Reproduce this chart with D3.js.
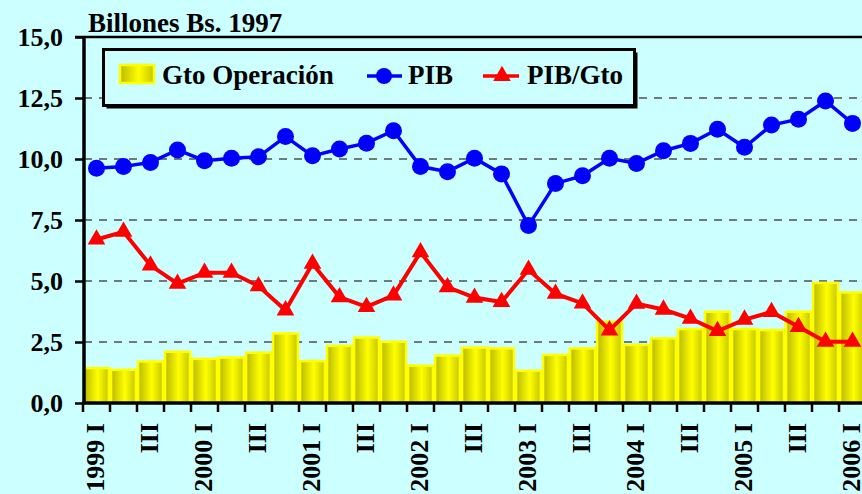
<!DOCTYPE html>
<html>
<head>
<meta charset="utf-8">
<script src="https://cdn.jsdelivr.net/npm/d3@7"></script>
<style>
  body { margin: 0; background: #CCFFFF; }
  svg { display: block; }
  text { font-family: "Liberation Serif", "Times New Roman", serif; font-weight: bold; fill: #000; }
</style>
</head>
<body>
<div id="chart"></div>
<script>
// data //
let quarters = ['1999 I', '1999 II', '1999 III', '1999 IV',
    '2000 I', '2000 II', '2000 III', '2000 IV',
    '2001 I', '2001 II', '2001 III', '2001 IV',
    '2002 I', '2002 II', '2002 III', '2002 IV',
    '2003 I', '2003 II', '2003 III', '2003 IV',
    '2004 I', '2004 II', '2004 III', '2004 IV',
    '2005 I', '2005 II', '2005 III', '2005 IV',
    '2006 I'];

let tickLabels = ['1999 I', '', 'III', '', '2000 I', '', 'III', '',
    '2001 I', '', 'III', '', '2002 I', '', 'III', '',
    '2003 I', '', 'III', '', '2004 I', '', 'III', '',
    '2005 I', '', 'III', '', '2006 I'];

let gto = [1.43, 1.36, 1.70, 2.10, 1.81, 1.86, 2.06, 2.85,
    1.72, 2.34, 2.68, 2.51, 1.53, 1.94, 2.27, 2.24,
    1.32, 1.97, 2.24, 3.33, 2.38, 2.65, 3.03, 3.74,
    3.03, 2.99, 3.74, 4.92, 4.53];

let pib = [9.62, 9.69, 9.86, 10.37, 9.93, 10.03, 10.09, 10.92,
    10.13, 10.41, 10.65, 11.16, 9.69, 9.48, 10.03, 9.39,
    7.27, 9.00, 9.31, 10.03, 9.82, 10.34, 10.64, 11.22,
    10.48, 11.39, 11.63, 12.38, 11.46];

let pibGto = [6.70, 7.02, 5.64, 4.89, 5.34, 5.34, 4.79, 3.80,
    5.71, 4.34, 3.94, 4.41, 6.18, 4.75, 4.32, 4.14,
    5.46, 4.48, 4.08, 2.98, 4.07, 3.83, 3.46, 2.95,
    3.42, 3.73, 3.12, 2.51, 2.51];

let yTicks = [0, 2.5, 5, 7.5, 10, 12.5, 15];

//sizes//
let w = 862;
let h = 494;
let plotLeft = 84;
let plotRight = 866;
let plotTop = 37;
let plotBottom = 403;

let svg = d3.select('#chart')
    .append('svg')
    .attr('width', w)
    .attr('height', h)
    .style('background-color', '#CCFFFF');

let defs = svg.append('defs');
let grad = defs.append('linearGradient')
    .attr('id', 'barGrad')
    .attr('x1', '0%').attr('x2', '100%')
    .attr('y1', '0%').attr('y2', '0%');
grad.append('stop').attr('offset', '0%').attr('stop-color', '#B8B800');
grad.append('stop').attr('offset', '55%').attr('stop-color', '#FFFF00');
grad.append('stop').attr('offset', '100%').attr('stop-color', '#C4C400');

let xScale = d3.scaleBand()
    .domain(quarters)
    .range([83, plotRight])
    .paddingInner(0.08)
    .paddingOuter(0.04);

let yScale = d3.scaleLinear()
    .domain([0, 15])
    .range([plotBottom, plotTop]);

let cx = d => xScale(d) + xScale.bandwidth() / 2;

//grid//
svg.append('g')
    .selectAll('line')
    .data(yTicks.filter(d => d > 0 && d < 15))
    .enter()
    .append('line')
    .attr('x1', plotLeft)
    .attr('x2', plotRight)
    .attr('y1', d => yScale(d))
    .attr('y2', d => yScale(d))
    .style('stroke', '#505050')
    .style('stroke-width', 1.5)
    .style('stroke-dasharray', '8,7');

// top border
svg.append('line')
    .attr('x1', 75).attr('x2', plotRight)
    .attr('y1', yScale(15)).attr('y2', yScale(15))
    .style('stroke', '#000')
    .style('stroke-width', 2.5);

//bars//
svg.append('g')
    .selectAll('rect')
    .data(gto)
    .enter()
    .append('rect')
    .attr('x', (d, i) => xScale(quarters[i]))
    .attr('y', d => yScale(d))
    .attr('width', xScale.bandwidth())
    .attr('height', d => plotBottom - yScale(d))
    .style('fill', 'url(#barGrad)')
    .style('stroke', '#FFFF00')
    .style('stroke-width', 2.5);

//PIB line//
let line = d3.line()
    .x((d, i) => cx(quarters[i]))
    .y(d => yScale(d));

svg.append('path')
    .datum(pib)
    .attr('d', line)
    .style('fill', 'none')
    .style('stroke', '#0000FF')
    .style('stroke-width', 3.5);

svg.append('g')
    .selectAll('circle')
    .data(pib)
    .enter()
    .append('circle')
    .attr('cx', (d, i) => cx(quarters[i]))
    .attr('cy', d => yScale(d))
    .attr('r', 8.5)
    .style('fill', '#0000FF');

//PIB/Gto line//
svg.append('path')
    .datum(pibGto)
    .attr('d', line)
    .style('fill', 'none')
    .style('stroke', '#FF0000')
    .style('stroke-width', 4);

let tri = d3.symbol().type(d3.symbolTriangle).size(135);

svg.append('g')
    .selectAll('path')
    .data(pibGto)
    .enter()
    .append('path')
    .attr('d', tri)
    .attr('transform', (d, i) => 'translate(' + cx(quarters[i]) + ',' + yScale(d) + ')')
    .style('fill', '#FF0000');

//axes//
let yAxis = d3.axisLeft(yScale)
    .tickValues(yTicks)
    .tickSize(9)
    .tickPadding(12)
    .tickFormat(d => d3.format('.1f')(d).replace('.', ','));

let gy = svg.append('g')
    .attr('transform', 'translate(' + plotLeft + ',0)')
    .call(yAxis);
gy.select('.domain').style('stroke-width', 3.5).attr('d', 'M0,' + (plotTop - 1) + 'V' + (plotBottom + 1));
gy.selectAll('.tick line').style('stroke-width', 2.5);
gy.selectAll('.tick text')
    .style('font-size', '26px')
    .style('font-family', '"Liberation Serif", serif')
    .style('font-weight', 'bold');

let xAxis = d3.axisBottom(xScale)
    .tickSize(0)
    .tickFormat((d, i) => tickLabels[i]);

let gx = svg.append('g')
    .attr('transform', 'translate(0,' + plotBottom + ')')
    .call(xAxis);
gx.select('.domain').style('stroke-width', 3.5).attr('d', 'M' + (plotLeft - 2) + ',0H' + plotRight);
gx.selectAll('.tick text')
    .style('font-size', '26px')
    .style('font-family', '"Liberation Serif", serif')
    .style('font-weight', 'bold')
    .attr('text-anchor', 'end')
    .attr('transform', 'rotate(-90)')
    .attr('x', -20)
    .attr('y', 0)
    .attr('dy', '0.3em');

// boundary ticks
let step = xScale.step();
svg.append('g')
    .selectAll('line')
    .data(d3.range(quarters.length + 1))
    .enter()
    .append('line')
    .attr('x1', i => 83 + i * step)
    .attr('x2', i => 83 + i * step)
    .attr('y1', plotBottom)
    .attr('y2', plotBottom + 9)
    .style('stroke', '#000')
    .style('stroke-width', 2.5);

//title//
svg.append('text')
    .attr('x', 88)
    .attr('y', 32)
    .style('font-size', '27px')
    .text('Billones Bs. 1997');

//legend//
let lg = svg.append('g');
lg.append('rect')
    .attr('x', 106.5).attr('y', 52.5)
    .attr('width', 531).attr('height', 56)
    .style('fill', '#000');
lg.append('rect')
    .attr('x', 103.5).attr('y', 49.5)
    .attr('width', 531).attr('height', 56)
    .style('fill', '#CCFFFF')
    .style('stroke', '#000')
    .style('stroke-width', 3);

lg.append('rect')
    .attr('x', 120).attr('y', 65)
    .attr('width', 34).attr('height', 18)
    .style('fill', 'url(#barGrad)')
    .style('stroke', '#FFFF00')
    .style('stroke-width', 2.5);
lg.append('text').attr('x', 162).attr('y', 84).style('font-size', '27px').text('Gto Operación');

lg.append('line')
    .attr('x1', 367).attr('x2', 402)
    .attr('y1', 76).attr('y2', 76)
    .style('stroke', '#0000FF').style('stroke-width', 3.5);
lg.append('circle')
    .attr('cx', 384).attr('cy', 76).attr('r', 8)
    .style('fill', '#0000FF');
lg.append('text').attr('x', 408).attr('y', 84).style('font-size', '27px').text('PIB');

lg.append('line')
    .attr('x1', 483).attr('x2', 519)
    .attr('y1', 76).attr('y2', 76)
    .style('stroke', '#FF0000').style('stroke-width', 3.5);
lg.append('path')
    .attr('d', tri)
    .attr('transform', 'translate(502,76)')
    .style('fill', '#FF0000');
lg.append('text').attr('x', 527).attr('y', 84).style('font-size', '27px').text('PIB/Gto');
</script>
</body>
</html>
